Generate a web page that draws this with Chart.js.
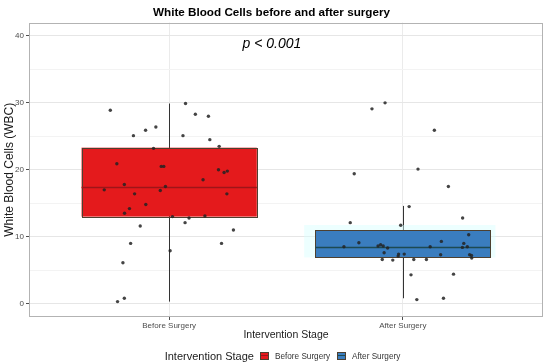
<!DOCTYPE html>
<html>
<head>
<meta charset="utf-8">
<script src="https://cdn.jsdelivr.net/npm/chart.js@4.4.1/dist/chart.umd.min.js"></script>
<style>
  html, body { margin: 0; padding: 0; background: #fff; }
  #wrap { position: relative; width: 550px; height: 364px; }
  #legend {
    position: absolute; left: 29px; right: 7px; top: 350px;
    display: flex; justify-content: center; align-items: center;
    font-family: 'Liberation Sans', Arial, sans-serif;
  }
  #legend .ttl { font-size: 11px; color: #1a1a1a; margin-right: 6px; }
  #legend .key { position: relative; width: 7px; height: 6px; border: 1px solid #4d4030; margin-right: 6px; }
  #legend .key i { position: absolute; left: 0; right: 0; top: 2px; height: 1px; }
  #legend .lab { font-size: 8.2px; color: #333; margin-right: 7px; }
</style>
</head>
<body>
<div id="wrap">
  <canvas id="chart" width="550" height="364"></canvas>
  <div id="legend"></div>
</div>
<script>
// Categories and tick labels
const stages = ['Before Surgery', 'After Surgery'];
const yTicks = [0, 5, 10, 15, 20, 25, 30, 35, 40];

// Boxplot summary per stage
const boxLow = [0.3, 0.8];
const boxQ1 = [13.0, 6.9];
const boxMedian = [17.5, 8.4];
const boxQ3 = [23.3, 11.0];
const boxHigh = [29.9, 14.6];

// Jittered observations: x = stage position with jitter, y = WBC
const beforeX = [0.748, 1.070, 1.112, 1.168, 0.847, 0.899, 0.943, 1.059, 1.174, 1.214,
  0.933, 0.776, 0.966, 0.977, 1.211, 1.235, 1.249, 1.145, 0.808, 0.722,
  0.962, 0.984, 0.852, 1.247, 0.900, 0.830, 0.809, 1.014, 1.085, 1.153,
  1.068, 0.876, 1.275, 0.835, 1.224, 1.004, 0.802, 0.779, 0.808];
const beforeY = [28.9, 29.9, 28.3, 28.0, 25.1, 25.9, 26.4, 25.1, 24.5, 23.5,
  23.2, 20.9, 20.5, 20.5, 20.0, 19.6, 19.8, 18.5, 17.8, 17.0,
  16.9, 17.5, 16.4, 16.4, 14.8, 14.2, 13.5, 13.0, 12.8, 13.1,
  12.1, 11.6, 11.0, 9.0, 9.0, 7.9, 6.1, 0.3, 0.8];
const afterX = [1.924, 1.868, 2.135, 1.792, 2.065, 2.195, 2.027, 2.256, 1.775, 1.991,
  2.282, 1.812, 2.165, 2.261, 1.748, 1.894, 1.905, 1.916, 1.935, 2.117,
  2.255, 2.276, 1.920, 1.982, 1.980, 2.006, 2.162, 2.286, 2.294, 2.295,
  1.912, 1.957, 2.047, 2.101, 2.035, 2.217, 2.060, 2.174];
const afterY = [30.0, 29.1, 25.9, 19.4, 20.1, 17.5, 14.5, 12.8, 12.1, 11.7,
  10.3, 9.1, 9.3, 9.0, 8.5, 8.6, 8.8, 8.6, 8.3, 8.5,
  8.4, 8.5, 7.6, 7.4, 7.1, 7.4, 7.3, 7.3, 7.2, 6.8,
  6.6, 6.5, 6.6, 6.6, 4.3, 4.4, 0.6, 0.8];

const pText = 'p < 0.001';

const boxFill = ['#e41a1c', '#3a7dbf'];
const medianColor = ['#9e1518', '#1d4a52'];

Chart.defaults.font.family = "'Liberation Sans', Arial, sans-serif";

const toPoints = (xs, ys) => xs.map((x, i) => ({ x: x, y: ys[i] }));

// Draws the boxes and whiskers under the points, and the panel frame on top
const boxPlugin = {
  id: 'boxes',
  beforeDatasetsDraw(chart) {
    const { ctx, scales: { x, y } } = chart;
    ctx.save();
    stages.forEach((s, i) => {
      const xc = x.getPixelForValue(i + 1);
      const half = x.getPixelForValue(i + 1 + 0.375) - xc;
      const top = y.getPixelForValue(boxQ3[i]);
      const bot = y.getPixelForValue(boxQ1[i]);
      // whisker
      ctx.strokeStyle = '#333';
      ctx.lineWidth = 1;
      ctx.beginPath();
      ctx.moveTo(Math.round(xc) + 0.5, y.getPixelForValue(boxHigh[i]));
      ctx.lineTo(Math.round(xc) + 0.5, y.getPixelForValue(boxLow[i]));
      ctx.stroke();
      if (i === 1) {
        // faint glow seen around the blue box
        ctx.fillStyle = 'rgba(215,255,255,0.45)';
        ctx.fillRect(xc - half - 11, top - 5, 2 * half + 16, bot - top + 5);
      }
      ctx.fillStyle = boxFill[i];
      ctx.fillRect(xc - half, top, 2 * half, bot - top);
      ctx.strokeStyle = '#4d4030';
      ctx.strokeRect(Math.round(xc - half) + 0.5, Math.round(top) + 0.5, Math.round(2 * half), Math.round(bot - top));
      const ym = Math.round(y.getPixelForValue(boxMedian[i])) + 0.5;
      ctx.strokeStyle = medianColor[i];
      ctx.lineWidth = 1.5;
      ctx.beginPath();
      ctx.moveTo(xc - half, ym);
      ctx.lineTo(xc + half, ym);
      ctx.stroke();
    });
    ctx.restore();
  },
  afterDatasetsDraw(chart) {
    const { ctx, scales: { x, y }, chartArea } = chart;
    ctx.save();
    ctx.strokeStyle = '#b3b3b3';
    ctx.lineWidth = 1;
    ctx.strokeRect(Math.round(chartArea.left) + 0.5, Math.round(chartArea.top) + 0.5,
      Math.round(chartArea.width) - 1, Math.round(chartArea.height) - 1);
    // p value label
    ctx.fillStyle = '#000';
    ctx.font = "italic 14px 'Liberation Sans', Arial, sans-serif";
    ctx.textAlign = 'center';
    ctx.textBaseline = 'middle';
    ctx.fillText(pText, x.getPixelForValue(1.44), y.getPixelForValue(38.8));
    ctx.restore();
  }
};

const chart = new Chart(document.getElementById('chart').getContext('2d'), {
  type: 'scatter',
  data: {
    datasets: [
      { label: stages[0], data: toPoints(beforeX, beforeY) },
      { label: stages[1], data: toPoints(afterX, afterY) },
    ],
  },
  options: {
    responsive: false,
    animation: false,
    layout: { padding: { left: 0, right: 7, top: 0, bottom: 16 } },
    elements: {
      point: { radius: 1.7, backgroundColor: 'rgba(35,35,35,0.85)', borderWidth: 0 },
    },
    plugins: {
      legend: { display: false },
      tooltip: { enabled: false },
      title: {
        display: true,
        text: 'White Blood Cells before and after surgery',
        color: '#000',
        font: { size: 11.7, weight: 'bold' },
        padding: { top: 6, bottom: 2.5 },
      },
    },
    scales: {
      x: {
        type: 'linear',
        min: 0.4,
        max: 2.6,
        afterBuildTicks: (scale) => { scale.ticks = [{ value: 1 }, { value: 2 }]; },
        afterFit: (scale) => { scale.height = 31; },
        ticks: {
          color: '#4d4d4d',
          font: { size: 8 },
          padding: 1,
          maxRotation: 0,
          callback: (v) => stages[v - 1],
        },
        grid: { color: '#ebebeb', tickColor: '#4d4d4d', tickLength: 3 },
        border: { display: false },
        title: {
          display: true,
          text: 'Intervention Stage',
          color: '#1a1a1a',
          font: { size: 10.5 },
          padding: { top: 0, bottom: 6.5 },
        },
      },
      y: {
        min: -2,
        max: 42,
        afterBuildTicks: (scale) => { scale.ticks = yTicks.map((v) => ({ value: v })); },
        afterFit: (scale) => { scale.width = 29; },
        ticks: {
          color: '#4d4d4d',
          font: { size: 8 },
          padding: 2,
          callback: (v) => (v % 10 === 0 ? v : ''),
        },
        grid: {
          color: (c) => (c.tick && c.tick.value % 10 === 0 ? '#e6e6e6' : '#f3f3f3'),
          tickColor: (c) => (c.tick && c.tick.value % 10 === 0 ? '#4d4d4d' : 'rgba(0,0,0,0)'),
          tickLength: 3,
        },
        border: { display: false },
        title: {
          display: true,
          text: 'White Blood Cells (WBC)',
          color: '#1a1a1a',
          font: { size: 12 },
          padding: { top: 2, bottom: 0 },
        },
      },
    },
  },
  plugins: [boxPlugin],
});

// Legend built from the same stage names and colours
const legend = document.getElementById('legend');
legend.innerHTML = '<span class="ttl">Intervention Stage</span>' +
  stages.map((s, i) =>
    '<span class="key" style="background:' + boxFill[i] + '"><i style="background:' + medianColor[i] + '"></i></span>' +
    '<span class="lab">' + s + '</span>').join('');
</script>
</body>
</html>
